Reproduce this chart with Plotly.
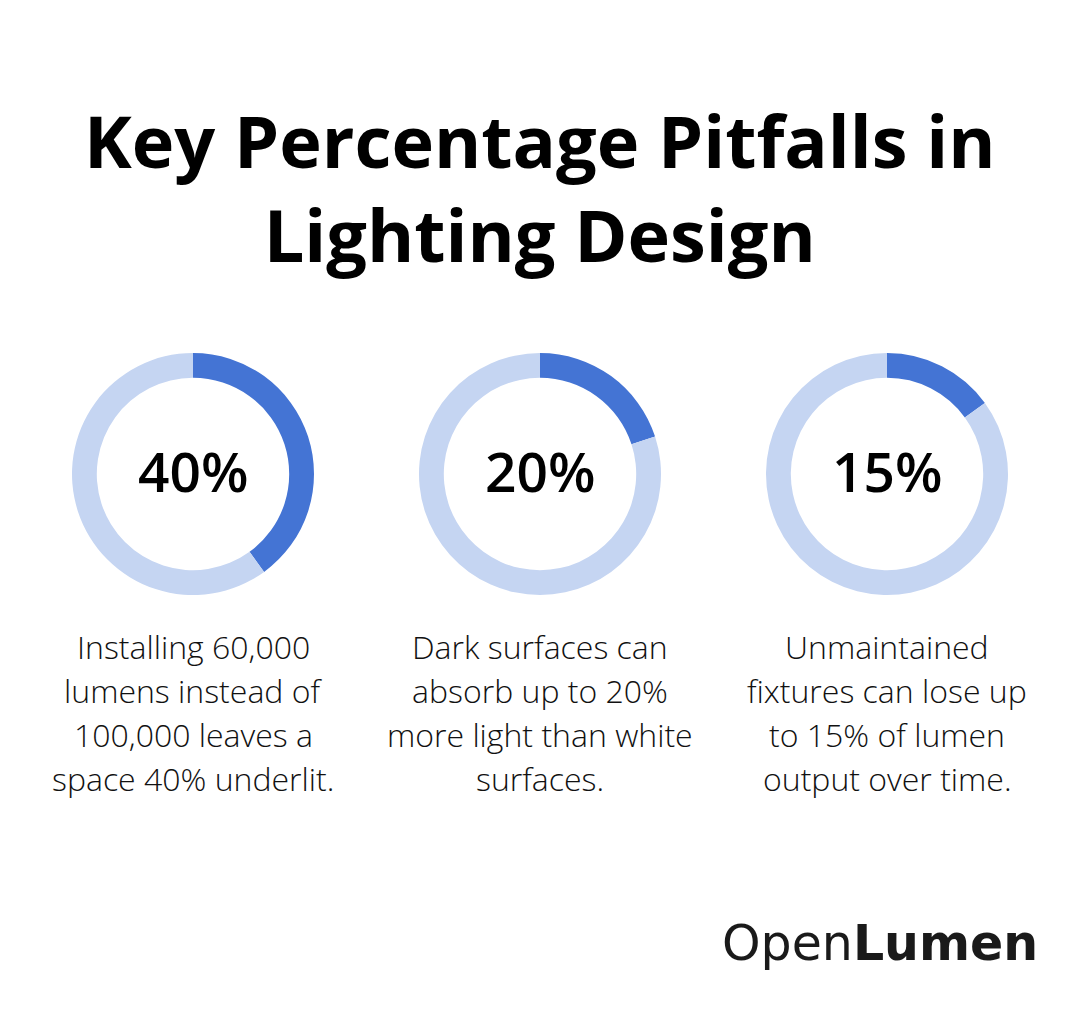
import plotly.graph_objects as go

W, H = 1080, 1026

title_lines = ["Key Percentage Pitfalls in", "Lighting Design"]
percent_values = [40, 20, 15]
percent_labels = ["40%", "20%", "15%"]
descriptions = [
    ["Installing 60,000", "lumens instead of", "100,000 leaves a", "space 40% underlit."],
    ["Dark surfaces can", "absorb up to 20%", "more light than white", "surfaces."],
    ["Unmaintained", "fixtures can lose up", "to 15% of lumen", "output over time."],
]
brand_regular = "Open"
brand_bold = "Lumen"

DARK = "#4474D4"
LIGHT = "#C5D5F2"

centers_x = [193, 540, 887]
center_y = 474
R_OUT = 121
HOLE = 0.795


def px_x(x):
    return x / W


def px_y(y):
    return 1 - y / H


fig = go.Figure()
for cx, val in zip(centers_x, percent_values):
    fig.add_trace(go.Pie(
        values=[val, 100 - val],
        labels=["share", "rest"],
        sort=False,
        direction="clockwise",
        rotation=0,
        hole=HOLE,
        marker=dict(colors=[DARK, LIGHT], line=dict(width=0)),
        textinfo="none",
        hoverinfo="skip",
        showlegend=False,
        domain=dict(x=[px_x(cx - R_OUT), px_x(cx + R_OUT)],
                    y=[px_y(center_y + R_OUT), px_y(center_y - R_OUT)]),
    ))

annotations = []
# Title
annotations.append(dict(
    text="<br>".join(title_lines), x=0.5, y=px_y(187), xref="paper", yref="paper",
    xanchor="center", yanchor="middle", showarrow=False,
    font=dict(family="Open Sans", size=72, color="#000000", weight=700),
))
# Centre percentages
for cx, lab in zip(centers_x, percent_labels):
    annotations.append(dict(
        text=lab, x=px_x(cx), y=px_y(center_y - 3), xref="paper", yref="paper",
        xanchor="center", yanchor="middle", showarrow=False,
        font=dict(family="Open Sans", size=55, color="#000000", weight=600),
    ))
# Descriptions
line_y = [646, 690, 734, 778]
for cx, lines in zip(centers_x, descriptions):
    for ly, line in zip(line_y, lines):
        annotations.append(dict(
            text=line, x=px_x(cx), y=px_y(ly), xref="paper", yref="paper",
            xanchor="center", yanchor="middle", showarrow=False,
            font=dict(family="Open Sans", size=32, color="#111111", weight=300),
        ))
# Brand
annotations.append(dict(
    text=f"{brand_regular}<b>{brand_bold}</b>", x=px_x(880), y=px_y(943),
    xref="paper", yref="paper", xanchor="center", yanchor="middle", showarrow=False,
    font=dict(family="DejaVu Sans", size=49, color="#1a1a1a"),
))

fig.update_layout(
    width=W, height=H,
    margin=dict(l=0, r=0, t=0, b=0),
    paper_bgcolor="white", plot_bgcolor="white",
    annotations=annotations,
)

fig.write_html("out.html", config={"displayModeBar": False})
